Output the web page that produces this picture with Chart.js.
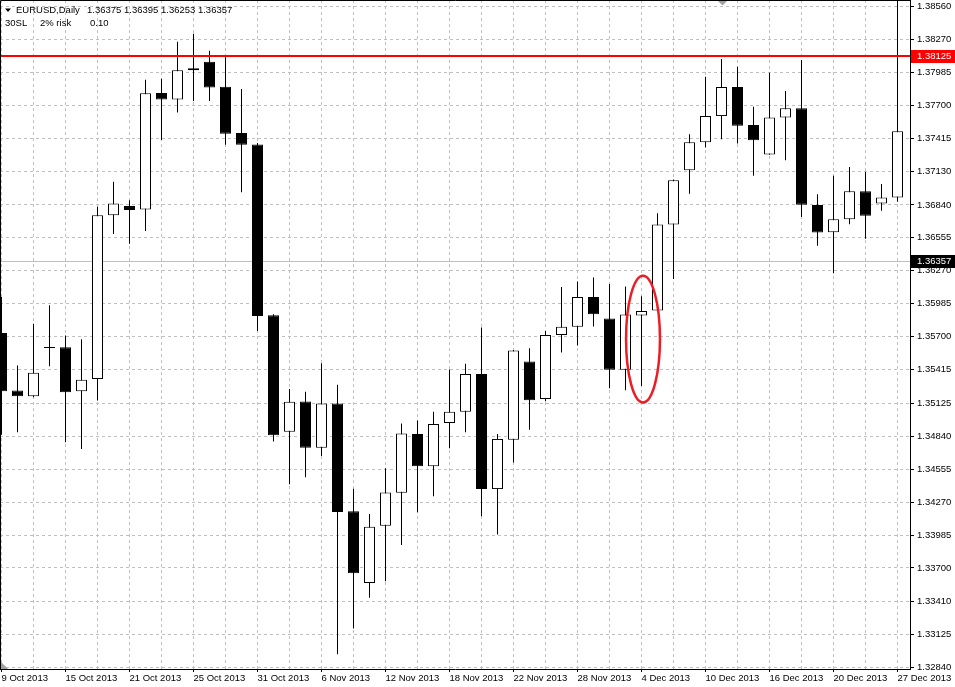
<!DOCTYPE html>
<html>
<head>
<meta charset="utf-8">
<title>EURUSD,Daily</title>
<script src="https://cdn.jsdelivr.net/npm/chart.js@4.4.1/dist/chart.umd.min.js"></script>
<style>
	html, body { margin: 0; padding: 0; background: #fff; }
	#wrap { width: 955px; height: 687px; }
</style>
</head>
<body>
<div id="wrap"><canvas id="priceChart" width="955" height="687"></canvas></div>
<script>
// daily bars (one entry per trading day)
const opens = [
	1.35732, 1.35234, 1.35185, 1.35602, 1.35609, 1.35228, 1.35334, 1.36750, 1.36830, 1.36801,
	1.37808, 1.37751, 1.38005, 1.38077, 1.37862, 1.37462, 1.37362, 1.35886, 1.34878, 1.35139,
	1.34739, 1.35122, 1.34190, 1.33569, 1.34064, 1.34350, 1.34859, 1.34579, 1.34954, 1.35051,
	1.35378, 1.34382, 1.34808, 1.35486, 1.35162, 1.35714, 1.35786, 1.36043, 1.35857, 1.35414,
	1.35883, 1.35926, 1.36670, 1.37139, 1.37382, 1.37608, 1.37859, 1.37530, 1.37276, 1.37596,
	1.37676, 1.36838, 1.36604, 1.36715, 1.36958, 1.36853, 1.36904
];
const highs = [
	1.36043, 1.35451, 1.35812, 1.35972, 1.35711, 1.35677, 1.36824, 1.37039, 1.36881, 1.37922,
	1.37931, 1.38251, 1.38320, 1.38174, 1.38122, 1.37842, 1.37376, 1.35894, 1.35248, 1.35225,
	1.35471, 1.35285, 1.34384, 1.34167, 1.34562, 1.34949, 1.34976, 1.35051, 1.35417, 1.35466,
	1.35780, 1.34859, 1.35586, 1.35600, 1.35749, 1.36129, 1.36178, 1.36212, 1.36155, 1.36135,
	1.36049, 1.36767, 1.37059, 1.37450, 1.37948, 1.38102, 1.38034, 1.37688, 1.37982, 1.37825,
	1.38094, 1.36933, 1.37093, 1.37167, 1.37124, 1.37021, 1.38700
];
const lows = [
	1.34853, 1.34873, 1.35177, 1.35445, 1.34788, 1.34728, 1.35148, 1.36589, 1.36504, 1.36615,
	1.37402, 1.37639, 1.37739, 1.37739, 1.37359, 1.36950, 1.35749, 1.34793, 1.34424, 1.34485,
	1.34668, 1.32954, 1.33177, 1.33443, 1.33586, 1.33898, 1.34181, 1.34321, 1.34736, 1.34873,
	1.34147, 1.33990, 1.34613, 1.34896, 1.35142, 1.35563, 1.35623, 1.35789, 1.35254, 1.35237,
	1.35274, 1.35924, 1.36198, 1.36936, 1.37336, 1.37407, 1.37370, 1.37093, 1.37273, 1.37227,
	1.36735, 1.36487, 1.36249, 1.36672, 1.36547, 1.36790, 1.36867
];
const closes = [
	1.35228, 1.35185, 1.35388, 1.35611, 1.35220, 1.35328, 1.36750, 1.36853, 1.36795, 1.37805,
	1.37751, 1.38005, 1.38022, 1.37856, 1.37456, 1.37359, 1.35879, 1.34848, 1.35137, 1.34739,
	1.35122, 1.34184, 1.33655, 1.34056, 1.34353, 1.34862, 1.34579, 1.34945, 1.35051, 1.35378,
	1.34382, 1.34816, 1.35580, 1.35151, 1.35714, 1.35786, 1.36043, 1.35894, 1.35414, 1.35892,
	1.35923, 1.36670, 1.37053, 1.37382, 1.37608, 1.37859, 1.37525, 1.37399, 1.37596, 1.37676,
	1.36841, 1.36601, 1.36715, 1.36958, 1.36747, 1.36904, 1.37476
];

// time axis labels, one every 4 bars
const dateLabels = [
	'9 Oct 2013', '15 Oct 2013', '21 Oct 2013', '25 Oct 2013', '31 Oct 2013',
	'6 Nov 2013', '12 Nov 2013', '18 Nov 2013', '22 Nov 2013', '28 Nov 2013',
	'4 Dec 2013', '10 Dec 2013', '16 Dec 2013', '20 Dec 2013', '27 Dec 2013'
];
// price axis labels
const priceTicks = [
	'1.38560', '1.38270', '1.37985', '1.37700', '1.37415', '1.37130', '1.36840',
	'1.36555', '1.36270', '1.35985', '1.35700', '1.35415', '1.35125', '1.34840',
	'1.34555', '1.34270', '1.33985', '1.33700', '1.33410', '1.33125', '1.32840'
];

const symbolName = 'EURUSD,Daily';
const lastQuote = ['1.36375', '1.36395', '1.36253', '1.36357'];
const infoTexts = ['30SL', '2% risk', '0.10'];
const stopLevel = 1.38125;   // red horizontal line
const bidLevel = 1.36357;    // current price line
const markIndex = 40;        // candle circled in red
const markCenter = 1.35680;
const markHalfRange = 0.00548;

const FONT = '"Liberation Sans", Arial, sans-serif';
const FONT_SIZE = 9.5;

document.addEventListener("DOMContentLoaded", () => {
	const bodyData = opens.map((o, i) => ({ x: i, y: [o, closes[i]] }));
	const wickData = highs.map((h, i) => ({ x: i, y: [lows[i], h] }));
	const bodyColors = opens.map((o, i) => closes[i] >= o ? '#ffffff' : '#000000');

	// 그리기 보조: 테두리, 가격선, 표시 원, 헤더
	const overlay = {
		id: 'overlay',
		beforeDatasetsDraw(chart) {
			const { ctx, chartArea: a, scales: { y } } = chart;
			const py = Math.round(y.getPixelForValue(bidLevel)) + 0.5;
			ctx.save();
			ctx.strokeStyle = '#c0c0c0';
			ctx.lineWidth = 1;
			ctx.beginPath();
			ctx.moveTo(a.left, py);
			ctx.lineTo(a.right, py);
			ctx.stroke();
			ctx.restore();
		},
		afterDatasetsDraw(chart) {
			const { ctx, chartArea: a, scales: { x, y } } = chart;
			ctx.save();
			// stop line
			const ps = Math.round(y.getPixelForValue(stopLevel));
			ctx.strokeStyle = '#ff0000';
			ctx.lineWidth = 2;
			ctx.beginPath();
			ctx.moveTo(a.left, ps);
			ctx.lineTo(a.right, ps);
			ctx.stroke();
			// circled candle
			const cx = x.getPixelForValue(markIndex) + 1.5;
			const cy = y.getPixelForValue(markCenter);
			const ry = y.getPixelForValue(markCenter - markHalfRange) - cy;
			const rx = x.getPixelForValue(markIndex + 1.06) - x.getPixelForValue(markIndex);
			ctx.strokeStyle = '#ee1c24';
			ctx.lineWidth = 2.5;
			ctx.beginPath();
			ctx.ellipse(cx, cy, rx, ry, 0, 0, Math.PI * 2);
			ctx.stroke();
			ctx.restore();
		},
		afterDraw(chart) {
			const { ctx, chartArea: a, scales: { y } } = chart;
			ctx.save();
			// frame top / left
			ctx.strokeStyle = '#000';
			ctx.lineWidth = 1;
			ctx.beginPath();
			ctx.moveTo(a.left + 0.5, a.bottom);
			ctx.lineTo(a.left + 0.5, a.top + 0.5);
			ctx.lineTo(a.right, a.top + 0.5);
			ctx.stroke();

			// shift markers
			ctx.fillStyle = '#a0a0a0';
			ctx.beginPath();
			ctx.moveTo(718, 1); ctx.lineTo(727, 1); ctx.lineTo(722.5, 5.5);
			ctx.fill();
			ctx.beginPath();
			ctx.moveTo(1, a.bottom - 7); ctx.lineTo(1, a.bottom); ctx.lineTo(8, a.bottom);
			ctx.fill();

			// price boxes on the axis
			ctx.font = `${FONT_SIZE}px ${FONT}`;
			ctx.textBaseline = 'middle';
			ctx.textAlign = 'left';
			const boxes = [
				{ v: stopLevel, bg: '#ff0000', t: stopLevel.toFixed(5) },
				{ v: bidLevel, bg: '#000000', t: bidLevel.toFixed(5) }
			];
			boxes.forEach(b => {
				const py = Math.round(y.getPixelForValue(b.v));
				ctx.fillStyle = b.bg;
				ctx.fillRect(a.right + 1, py - 6, chart.width - a.right - 1, 13);
				ctx.fillStyle = '#ffffff';
				ctx.fillText(b.t, a.right + 7, py + 0.5);
			});

			// header
			ctx.fillStyle = '#000';
			ctx.beginPath();
			ctx.moveTo(5, 8.5); ctx.lineTo(11, 8.5); ctx.lineTo(8, 12);
			ctx.fill();
			ctx.fillText(symbolName, 16, 10);
			ctx.fillText(lastQuote.join(' '), 87, 10);
			ctx.fillText(infoTexts[0], 5, 23);
			ctx.fillText(infoTexts[1], 40, 23);
			ctx.fillText(infoTexts[2], 90, 23);
			ctx.restore();
		}
	};

	const options = {
		responsive: false,
		animation: false,
		layout: { padding: 0 },
		plugins: {
			legend: { display: false },
			tooltip: { enabled: false }
		},
		scales: {
			x: {
				type: 'linear',
				offset: false,
				min: -1.5 / 16,
				max: -1.5 / 16 + 910 / 16,
				afterBuildTicks: (scale) => {
					const t = [];
					for (let i = 0; i < opens.length; i += 2) t.push({ value: i });
					scale.ticks = t;
				},
				afterFit: (scale) => {
					scale.height = 18;
					scale.paddingLeft = 0;
					scale.paddingRight = 0;
				},
				grid: {
					offset: false,
					color: '#c0c0c0',
					lineWidth: 1,
					tickLength: 3,
					tickColor: (c) => (c.index % 2 === 0 ? '#000000' : 'rgba(0,0,0,0)'),
					tickBorderDash: []
				},
				border: { display: true, color: '#000', width: 1, dash: [3, 3] },
				ticks: {
					autoSkip: false,
					maxRotation: 0,
					align: 'start',
					padding: 1,
					color: '#000',
					font: { family: FONT, size: FONT_SIZE },
					callback: (value, index) => (index % 2 === 0 ? dateLabels[index / 2] : '')
				}
			},
			y: {
				type: 'linear',
				position: 'right',
				min: 1.328262,
				max: 1.386119,
				afterBuildTicks: (scale) => {
					scale.ticks = priceTicks.map(p => ({ value: parseFloat(p) }));
				},
				afterFit: (scale) => {
					scale.width = 45;
					scale.paddingTop = 0;
					scale.paddingBottom = 0;
				},
				grid: {
					color: '#c0c0c0',
					lineWidth: 1,
					tickLength: 4,
					tickColor: '#000',
					tickBorderDash: []
				},
				border: { display: true, color: '#000', width: 1, dash: [3, 3] },
				ticks: {
					autoSkip: false,
					padding: 3,
					color: '#000',
					font: { family: FONT, size: FONT_SIZE },
					callback: (value, index) => priceTicks[index]
				}
			}
		}
	};

	window.priceChart = new Chart(document.getElementById('priceChart'), {
		type: 'bar',
		data: {
			datasets: [
				{
					label: 'body',
					data: bodyData,
					backgroundColor: bodyColors,
					borderColor: '#000000',
					borderWidth: 1,
					borderSkipped: false,
					barThickness: 11,
					grouped: false,
					inflateAmount: 0
				},
				{
					label: 'wick',
					data: wickData,
					backgroundColor: '#000000',
					borderWidth: 0,
					barThickness: 1,
					grouped: false,
					inflateAmount: 0
				}
			]
		},
		options: options,
		plugins: [overlay]
	});
});
</script>
</body>
</html>
